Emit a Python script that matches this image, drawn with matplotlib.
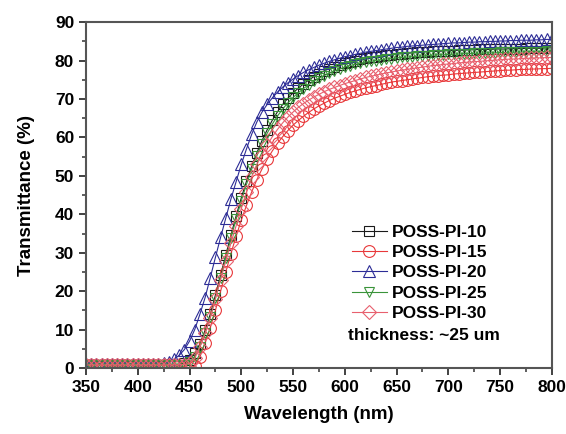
import matplotlib
matplotlib.use("Agg")
import matplotlib.pyplot as plt
from matplotlib.ticker import MultipleLocator

# wavelength grid (nm), one reading every 5 nm
wavelength = list(range(350, 805, 5))

poss_pi_10 = [
    0.8, 0.8, 0.8, 0.8, 0.8, 0.8, 0.8, 0.8, 0.8, 0.8,
    0.8, 0.8, 0.8, 0.8, 0.8, 0.8, 0.8, 0.8, 0.9, 1.3,
    2.2, 3.8, 6.3, 9.8, 14.0, 19.0, 24.2, 29.4, 34.6, 39.6,
    44.3, 48.6, 52.5, 56.0, 59.2, 62.0, 64.5, 66.7, 68.6, 70.2,
    71.6, 72.8, 73.9, 74.9, 75.8, 76.6, 77.3, 77.9, 78.4, 78.9,
    79.3, 79.7, 80.0, 80.3, 80.6, 80.8, 81.0, 81.2, 81.4, 81.5,
    81.7, 81.8, 81.9, 82.0, 82.1, 82.2, 82.3, 82.4, 82.4, 82.5,
    82.6, 82.6, 82.7, 82.7, 82.8, 82.8, 82.9, 82.9, 82.9, 83.0,
    83.0, 83.0, 83.1, 83.1, 83.1, 83.2, 83.2, 83.2, 83.2, 83.3,
    83.3,
]
poss_pi_15 = [
    0.8, 0.8, 0.8, 0.8, 0.8, 0.8, 0.8, 0.8, 0.8, 0.8,
    0.8, 0.8, 0.8, 0.8, 0.8, 0.8, 0.8, 0.8, 0.6, 0.3,
    0.1, 0.5, 3.0, 6.5, 10.5, 15.0, 20.0, 25.0, 29.8, 34.3,
    38.5, 42.3, 45.8, 49.0, 51.8, 54.3, 56.5, 58.5, 60.2, 61.8,
    63.2, 64.4, 65.5, 66.5, 67.4, 68.2, 68.9, 69.6, 70.2, 70.7,
    71.2, 71.7, 72.1, 72.5, 72.9, 73.2, 73.5, 73.8, 74.1, 74.4,
    74.6, 74.8, 75.0, 75.2, 75.4, 75.6, 75.8, 75.9, 76.1, 76.2,
    76.3, 76.5, 76.6, 76.7, 76.8, 76.9, 77.0, 77.1, 77.2, 77.3,
    77.4, 77.5, 77.5, 77.6, 77.7, 77.7, 77.8, 77.8, 77.9, 77.9,
    78.0,
]
poss_pi_20 = [
    1.0, 1.0, 1.0, 1.0, 1.0, 1.0, 1.0, 1.0, 1.0, 1.0,
    1.0, 1.0, 1.0, 1.0, 1.0, 1.2, 1.6, 2.3, 3.3, 4.8,
    7.0, 10.0, 14.0, 18.3, 23.5, 28.8, 34.0, 39.0, 44.0, 48.5,
    53.0, 57.0, 60.8, 64.0, 66.6, 68.6, 70.3, 71.8, 73.1, 74.2,
    75.2, 76.1, 76.9, 77.6, 78.2, 78.8, 79.3, 79.8, 80.2, 80.6,
    81.0, 81.3, 81.6, 81.9, 82.2, 82.4, 82.6, 82.8, 83.0, 83.2,
    83.4, 83.5, 83.7, 83.8, 83.9, 84.0, 84.1, 84.2, 84.3, 84.4,
    84.5, 84.6, 84.6, 84.7, 84.8, 84.8, 84.9, 84.9, 85.0, 85.0,
    85.1, 85.1, 85.2, 85.2, 85.3, 85.3, 85.3, 85.4, 85.4, 85.5,
    85.5,
]
poss_pi_25 = [
    0.8, 0.8, 0.8, 0.8, 0.8, 0.8, 0.8, 0.8, 0.8, 0.8,
    0.8, 0.8, 0.8, 0.8, 0.8, 0.8, 0.8, 0.8, 0.8, 0.8,
    1.5, 3.0, 5.5, 9.0, 13.2, 18.2, 23.4, 28.6, 33.8, 38.8,
    43.5, 47.8, 51.7, 55.2, 58.3, 61.1, 63.5, 65.6, 67.4, 69.0,
    70.4, 71.6, 72.7, 73.7, 74.6, 75.4, 76.1, 76.7, 77.3, 77.8,
    78.3, 78.7, 79.0, 79.3, 79.6, 79.8, 80.0, 80.2, 80.4, 80.5,
    80.7, 80.8, 80.9, 81.0, 81.1, 81.2, 81.3, 81.4, 81.5, 81.5,
    81.6, 81.7, 81.7, 81.8, 81.8, 81.9, 81.9, 82.0, 82.0, 82.0,
    82.1, 82.1, 82.2, 82.2, 82.2, 82.3, 82.3, 82.3, 82.3, 82.4,
    82.4,
]
poss_pi_30 = [
    0.8, 0.8, 0.8, 0.8, 0.8, 0.8, 0.8, 0.8, 0.8, 0.8,
    0.8, 0.8, 0.8, 0.8, 0.8, 0.8, 0.8, 0.8, 0.8, 0.9,
    1.2, 2.5, 5.5, 9.0, 13.0, 18.0, 23.0, 27.8, 32.5, 37.0,
    41.5, 45.8, 49.8, 53.0, 55.5, 58.0, 60.2, 62.1, 63.8, 65.3,
    66.6, 67.8, 68.8, 69.7, 70.5, 71.2, 71.9, 72.5, 73.0, 73.5,
    74.0, 74.4, 74.8, 75.2, 75.6, 75.9, 76.2, 76.5, 76.8, 77.0,
    77.3, 77.5, 77.7, 77.9, 78.1, 78.3, 78.5, 78.7, 78.8, 79.0,
    79.1, 79.2, 79.4, 79.5, 79.6, 79.7, 79.8, 79.9, 80.0, 80.1,
    80.2, 80.3, 80.4, 80.4, 80.5, 80.6, 80.6, 80.7, 80.7, 80.8,
    80.8,
]

labels = ["POSS-PI-10", "POSS-PI-15", "POSS-PI-20", "POSS-PI-25", "POSS-PI-30"]
series = [poss_pi_10, poss_pi_15, poss_pi_20, poss_pi_25, poss_pi_30]
colors = ["#1a1a1a", "#e8383a", "#2c2c96", "#3a943a", "#e8606e"]
markers = ["s", "o", "^", "v", "D"]
sizes = [7.5, 8.5, 8.5, 7.5, 7]


def main() -> None:
    plt.rcParams["font.family"] = ["Liberation Sans", "DejaVu Sans"]
    plt.rcParams["font.weight"] = "bold"

    fig = plt.figure(figsize=(5.66, 4.34), dpi=100)
    ax = fig.add_axes([0.152, 0.152, 0.823, 0.797])

    for y, lab, c, m, s in zip(series, labels, colors, markers, sizes):
        ax.plot(wavelength, y, color=c, lw=0.8, marker=m, ms=s,
                mfc="none", mec=c, mew=0.8, label=lab)

    ax.set_xlim(350, 800)
    ax.set_ylim(0, 90)
    ax.xaxis.set_major_locator(MultipleLocator(50))
    ax.xaxis.set_minor_locator(MultipleLocator(25))
    ax.yaxis.set_major_locator(MultipleLocator(10))
    ax.yaxis.set_minor_locator(MultipleLocator(5))
    ax.tick_params(which="major", direction="out", length=5, width=1.3,
                   labelsize=12.5, color="#333333")
    ax.tick_params(which="minor", direction="out", length=3, width=1.1,
                   color="#333333")
    for sp in ax.spines.values():
        sp.set_linewidth(1.5)
        sp.set_color("#555555")

    ax.set_xlabel("Wavelength (nm)", fontsize=13.5, fontweight="bold",
                  labelpad=8)
    ax.set_ylabel("Transmittance (%)", fontsize=13.5, fontweight="bold",
                  labelpad=14)

    leg = ax.legend(loc="upper left", bbox_to_anchor=(0.545, 0.45),
                    frameon=False, fontsize=12.5, handlelength=2.0,
                    handletextpad=0.3, labelspacing=0.3, borderpad=0.2)
    for t in leg.get_texts():
        t.set_fontweight("bold")
    ax.text(0.562, 0.095, "thickness: ~25 um", transform=ax.transAxes,
            fontsize=12.5, fontweight="bold", va="center", ha="left")

    fig.savefig("out.png", dpi=100)


if __name__ == '__main__':
    main()
